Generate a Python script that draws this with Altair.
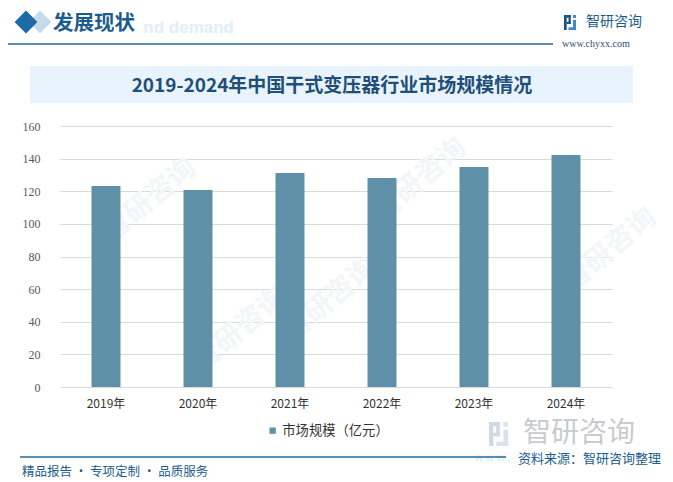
import altair as alt
import pandas as pd

years = ["2019年", "2020年", "2021年", "2022年", "2023年", "2024年"]
values = [123.2, 120.8, 131.2, 128.1, 134.9, 142.2]
series_name = "市场规模（亿元）"
y_ticks = [0, 20, 40, 60, 80, 100, 120, 140, 160]

title_text = "2019-2024年中国干式变压器行业市场规模情况"
header_text = "发展现状"
header_bg_text = "nd demand"
logo_text = "智研咨询"
site_text = "www.chyxx.com"
source_text = "资料来源：智研咨询整理"
slogan_text = "精品报告 · 专项定制 · 品质服务"

df = pd.DataFrame({"year": years, "value": values, "series": [series_name] * len(years)})

CJK = "Noto Sans CJK SC"
BAR = "#5E91A8"
DARK = "#1B5C8E"

# plot area origin on page: (60, 126)
OX, OY = 60, 126


def blank():
    return alt.Chart(alt.Data(values=[{}]))


def txt(t, x, y, size, color, weight="normal", font=CJK, align="left", angle=0, opacity=1.0):
    return blank().mark_text(
        text=t, align=align, baseline="middle", fontSize=size, color=color,
        fontWeight=weight, font=font, angle=angle, opacity=opacity
    ).encode(x=alt.value(x - OX), y=alt.value(y - OY))


def rect(x1, x2, y1, y2, color, opacity=1.0):
    return blank().mark_rect(color=color, opacity=opacity).encode(
        x=alt.value(x1 - OX), x2=alt.value(x2 - OX), y=alt.value(y1 - OY), y2=alt.value(y2 - OY)
    )


def hrule(x1, x2, y, color, w):
    return blank().mark_rule(color=color, strokeWidth=w).encode(
        x=alt.value(x1 - OX), x2=alt.value(x2 - OX), y=alt.value(y - OY)
    )


def diamond(x, y, size, color):
    return blank().mark_point(shape="square", angle=45, filled=True, size=size, color=color, opacity=1).encode(
        x=alt.value(x - OX), y=alt.value(y - OY)
    )


def logo_icon(x, y, s, c1, c2):
    # simple stylised logo made of small blocks
    return [
        rect(x, x + 0.45 * s, y, y + 0.18 * s, c1),
        rect(x, x + 0.18 * s, y, y + s, c1),
        rect(x + 0.3 * s, x + 0.45 * s, y, y + 0.6 * s, c1),
        rect(x + 0.18 * s, x + 0.45 * s, y + 0.45 * s, y + 0.6 * s, c1),
        rect(x + 0.6 * s, x + 0.8 * s, y, y + 0.2 * s, c2),
        rect(x + 0.6 * s, x + 0.8 * s, y + 0.32 * s, y + s, c2),
        rect(x + 0.3 * s, x + 0.8 * s, y + 0.82 * s, y + s, c2),
    ]


layers = []

# faint diagonal watermarks (kept clear of the texts)
for (wx, wy) in [(150, 200), (330, 300), (420, 180), (610, 250), (240, 330)]:
    layers.append(txt("智研咨询", wx, wy, 28, "#f3f6f9", weight="bold", align="center", angle=320))

# header
layers.append(txt(header_bg_text, 234, 28, 17, "#e3edf6", weight="bold", font="Liberation Sans", align="right"))
layers.append(diamond(40, 22, 260, "#c5dbeb"))
layers.append(diamond(26, 22, 260, "#1B6BA4"))
layers.append(txt(header_text, 53, 24, 20.5, DARK, weight="bold"))
layers.append(hrule(8, 553, 44, "#1F6AA5", 1.5))
layers += logo_icon(564, 15, 15, "#1F4E8C", "#3C8DD0")
layers.append(txt(logo_text, 586, 22, 14, DARK))
layers.append(txt(site_text, 562, 44, 10, "#1f4f7a", font="Liberation Serif"))

# title band
layers.append(rect(30, 633, 66, 103, "#E8F3FB"))
layers.append(txt(title_text, 332, 86, 19, "#1F4E79", weight="bold", align="center"))

# bottom watermark logo
layers += logo_icon(489, 422, 24, "#cfd8e4", "#dbe4ee")
layers.append(txt("w w w .", 475, 458, 11, "#e2e5e9", font="Liberation Sans"))
layers.append(txt(logo_text, 523, 434, 28, "#c8cbd0"))

# footer
layers.append(hrule(20, 506, 457, "#1F6AA5", 1.5))
layers.append(txt(source_text, 518, 459, 13, DARK))
layers.append(txt(slogan_text, 22, 472, 12.5, DARK))

bars = alt.Chart(df).mark_bar(color=BAR).encode(
    x=alt.X(
        "year:N", sort=years, title=None,
        scale=alt.Scale(paddingInner=0.685, paddingOuter=0.3425),
        axis=alt.Axis(labelAngle=0, labelFont=CJK, labelFontSize=12, labelColor="#333333",
                      ticks=False, domain=False, grid=False, labelPadding=11),
    ),
    y=alt.Y(
        "value:Q", title=None,
        scale=alt.Scale(domain=[0, 160], nice=False),
        axis=alt.Axis(values=y_ticks, labelFont="Liberation Serif", labelFontSize=12,
                      labelColor="#595959", ticks=False, domain=False, grid=True,
                      gridColor="#d9d9d9", gridWidth=1, labelPadding=20),
    ),
    color=alt.Color(
        "series:N", scale=alt.Scale(range=[BAR]),
        legend=alt.Legend(orient="none", legendX=266 - OX, legendY=424 - OY, title=None,
                          symbolType="square", symbolSize=40, symbolStrokeWidth=0,
                          labelFont=CJK, labelFontSize=13.3, labelColor="#333333",
                          labelOffset=3, padding=0),
    ),
)

chart = alt.layer(*layers, bars).properties(
    width=552, height=261,
    autosize=alt.AutoSizeParams(type="none"),
    padding={"left": 52, "top": 118, "right": 53, "bottom": 94},
    background="white",
).configure_view(stroke=None)

chart.save("out.html", embed_options={"renderer": "svg", "actions": False})
